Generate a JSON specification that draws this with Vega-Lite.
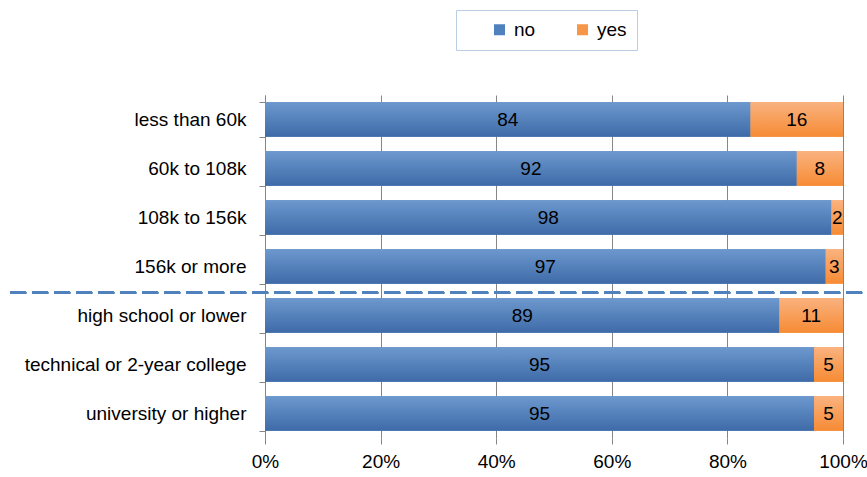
{
  "$schema": "https://vega.github.io/schema/vega-lite/v6.json",
  "width": 578,
  "height": 343,
  "autosize": "none",
  "padding": {"left": 265, "top": 95, "right": 24, "bottom": 39},
  "config": {"font": "Liberation Sans", "view": {"stroke": null}},
  "data": {
    "values": [
      {"group": "less than 60k", "answer": "no", "value": 84},
      {"group": "less than 60k", "answer": "yes", "value": 16},
      {"group": "60k to 108k", "answer": "no", "value": 92},
      {"group": "60k to 108k", "answer": "yes", "value": 8},
      {"group": "108k to 156k", "answer": "no", "value": 98},
      {"group": "108k to 156k", "answer": "yes", "value": 2},
      {"group": "156k or more", "answer": "no", "value": 97},
      {"group": "156k or more", "answer": "yes", "value": 3},
      {"group": "high school or lower", "answer": "no", "value": 89},
      {"group": "high school or lower", "answer": "yes", "value": 11},
      {"group": "technical or 2-year college", "answer": "no", "value": 95},
      {"group": "technical or 2-year college", "answer": "yes", "value": 5},
      {"group": "university or higher", "answer": "no", "value": 95},
      {"group": "university or higher", "answer": "yes", "value": 5}
    ]
  },
  "encoding": {
    "y": {
      "field": "group",
      "type": "nominal",
      "sort": null,
      "scale": {"paddingInner": 0.3, "paddingOuter": 0.15},
      "axis": {
        "title": null,
        "tickBand": "extent",
        "tickSize": 6,
        "tickColor": "#868686",
        "domainColor": "#868686",
        "labelFontSize": 19,
        "labelColor": "#000000",
        "labelPadding": 13,
        "labelLimit": 400
      }
    }
  },
  "layer": [
    {
      "mark": {"type": "bar"},
      "encoding": {
        "x": {
          "field": "value",
          "type": "quantitative",
          "stack": "normalize",
          "scale": {"domain": [0, 1], "nice": false},
          "axis": {
            "title": null,
            "values": [0, 0.2, 0.4, 0.6, 0.8, 1],
            "format": ".0%",
            "grid": true,
            "gridColor": "#868686",
            "domain": false,
            "tickSize": 6,
            "tickColor": "#868686",
            "labelFontSize": 19,
            "labelColor": "#000000",
            "labelPadding": 8,
            "labelFlush": false
          }
        },
        "order": {"field": "answer", "sort": "ascending"},
        "color": {
          "field": "answer",
          "type": "nominal",
          "scale": {"domain": ["no", "yes"], "range": ["#4F81BD", "#F79646"]},
          "legend": {
            "title": " ",
            "titleOrient": "left",
            "titlePadding": 24,
            "titleFontSize": 19,
            "orient": "none",
            "legendX": 191,
            "legendY": -85,
            "direction": "horizontal",
            "strokeColor": "#B9CDE5",
            "fillColor": "#FFFFFF",
            "padding": 10,
            "symbolType": "square",
            "symbolSize": 121,
            "symbolStrokeWidth": 0,
            "labelFontSize": 19,
            "labelColor": "#000000",
            "labelOffset": 5,
            "columnPadding": 37
          }
        }
      }
    },
    {
      "mark": {"type": "bar"},
      "encoding": {
        "x": {"field": "value", "type": "quantitative", "stack": "normalize"},
        "order": {"field": "answer", "sort": "ascending"},
        "detail": {"field": "answer"},
        "fill": {
          "condition": {
            "test": "datum.answer === 'no'",
            "value": {"gradient": "linear", "x1": 0, "y1": 0, "x2": 0, "y2": 1, "stops": [{"offset": 0, "color": "#6D98CE"}, {"offset": 1, "color": "#3E6BA8"}]}
          },
          "value": {"gradient": "linear", "x1": 0, "y1": 0, "x2": 0, "y2": 1, "stops": [{"offset": 0, "color": "#FAB27F"}, {"offset": 1, "color": "#F68B34"}]}
        }
      }
    },
    {
      "mark": {"type": "text", "fontSize": 19, "color": "#000000"},
      "encoding": {
        "x": {"field": "value", "type": "quantitative", "stack": "normalize", "bandPosition": 0.5},
        "order": {"field": "answer", "sort": "ascending"},
        "detail": {"field": "answer"},
        "text": {"field": "value", "type": "quantitative"}
      }
    },
    {
      "mark": {"type": "rule", "strokeDash": [16, 6], "color": "#4F81BD", "strokeWidth": 2},
      "encoding": {
        "x": {"datum": -0.441},
        "x2": {"datum": 1.033},
        "y": {"datum": "high school or lower", "bandPosition": 0},
        "yOffset": {"value": -5.5}
      }
    }
  ]
}
